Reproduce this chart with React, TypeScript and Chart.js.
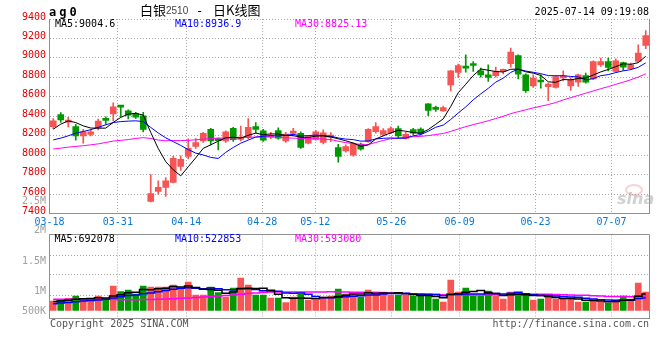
import React, { useEffect, useRef } from "react";
import { Chart, registerables } from "chart.js";

Chart.register(...registerables);

// ---------------- data ----------------
const dateLabels = ["03-18", "03-31", "04-14", "04-28", "05-12", "05-26", "06-09", "06-23", "07-07"];
// trading-day index of each labelled date
const dateIndex = [0, 9, 18, 28, 35, 45, 54, 64, 74];

const opens = [
  8293, 8418, 8340, 8293, 8198, 8214, 8282, 8377, 8423, 8500,
  8456, 8428, 8405, 7525, 7628, 7669, 7720, 7884, 7986, 8090,
  8146, 8265, 8166, 8146, 8275, 8163, 8185, 8293, 8250, 8185,
  8252, 8146, 8224, 8225, 8122, 8163, 8130, 8185, 8078, 8044,
  8000, 8115, 8139, 8241, 8214, 8231, 8272, 8173, 8262, 8268,
  8527, 8478, 8456, 8723, 8850, 8915, 8930, 8867, 8826, 8816,
  8862, 8940, 9025, 8826, 8713, 8760, 8703, 8696, 8795, 8713,
  8751, 8819, 8785, 8929, 8963, 8860, 8953, 8888, 8963, 9128,
];
const closes = [
  8354, 8361, 8352, 8198, 8241, 8241, 8351, 8357, 8497, 8494,
  8412, 8390, 8265, 7605, 7669, 7737, 7968, 7958, 8071, 8130,
  8224, 8146, 8150, 8241, 8160, 8185, 8285, 8265, 8155, 8205,
  8175, 8217, 8248, 8080, 8190, 8241, 8230, 8195, 7986, 8088,
  8122, 8062, 8265, 8293, 8252, 8272, 8198, 8214, 8225, 8220,
  8460, 8470, 8490, 8867, 8922, 8895, 8922, 8826, 8798, 8860,
  8870, 9060, 8833, 8662, 8792, 8752, 8730, 8809, 8805, 8775,
  8826, 8751, 8963, 8963, 8901, 8970, 8905, 8929, 9049, 9230,
];
const highs = [
  8377, 8439, 8390, 8316, 8265, 8265, 8370, 8395, 8538, 8508,
  8466, 8440, 8440, 7800, 7737, 7770, 7990, 7993, 8167, 8170,
  8235, 8275, 8175, 8250, 8285, 8300, 8377, 8335, 8265, 8235,
  8282, 8235, 8275, 8240, 8200, 8255, 8260, 8231, 8112, 8105,
  8130, 8125, 8272, 8335, 8272, 8290, 8300, 8235, 8275, 8280,
  8530, 8505, 8505, 8870, 8936, 9032, 8963, 8895, 8929, 8905,
  8885, 9100, 9032, 8836, 8826, 8826, 8741, 8815, 8867, 8798,
  8833, 8843, 8970, 8998, 8998, 8990, 8957, 8946, 9135, 9280,
];
const lows = [
  8272, 8337, 8290, 8153, 8122, 8198, 8260, 8316, 8354, 8395,
  8372, 8377, 8240, 7520, 7600, 7575, 7715, 7843, 7965, 8070,
  8130, 8105, 8055, 8130, 8140, 8146, 8166, 8225, 8140, 8170,
  8165, 8130, 8198, 8070, 8115, 8155, 8115, 8139, 7928, 8030,
  7990, 8050, 8130, 8225, 8198, 8220, 8173, 8165, 8210, 8205,
  8405, 8450, 8450, 8660, 8798, 8854, 8860, 8802, 8757, 8802,
  8835, 8905, 8785, 8644, 8696, 8689, 8559, 8690, 8764, 8665,
  8706, 8741, 8775, 8912, 8867, 8850, 8870, 8878, 8957, 9094,
];
const ma5 = [
  8267, 8319, 8352, 8335, 8301, 8279, 8277, 8278, 8337, 8388,
  8422, 8430, 8412, 8233, 8068, 7933, 7849, 7787, 7881, 7973,
  8070, 8106, 8144, 8178, 8184, 8176, 8204, 8227, 8210, 8219,
  8217, 8203, 8200, 8185, 8182, 8195, 8198, 8187, 8168, 8148,
  8124, 8091, 8105, 8166, 8199, 8229, 8256, 8246, 8232, 8226,
  8263, 8318, 8373, 8501, 8642, 8729, 8819, 8886, 8873, 8860,
  8855, 8883, 8884, 8857, 8843, 8820, 8754, 8749, 8778, 8774,
  8789, 8793, 8824, 8856, 8881, 8910, 8940, 8934, 8951, 9017,
];
const ma10 = [
  8157, 8175, 8199, 8226, 8243, 8262, 8286, 8312, 8335, 8345,
  8350, 8353, 8345, 8285, 8228, 8178, 8139, 8100, 8057, 8021,
  8002, 7977, 7966, 8029, 8079, 8123, 8155, 8186, 8194, 8202,
  8197, 8204, 8214, 8198, 8201, 8206, 8201, 8194, 8177, 8165,
  8160, 8144, 8146, 8167, 8173, 8177, 8173, 8175, 8199, 8212,
  8246, 8287, 8309, 8367, 8434, 8496, 8569, 8630, 8687, 8751,
  8792, 8851, 8885, 8865, 8852, 8838, 8818, 8817, 8817, 8809,
  8804, 8774, 8787, 8817, 8828, 8849, 8867, 8879, 8903, 8949,
];
const ma30 = [
  8063, 8072, 8082, 8090, 8097, 8106, 8116, 8130, 8145, 8152,
  8160, 8172, 8180, 8172, 8155, 8148, 8150, 8150, 8152, 8158,
  8165, 8170, 8175, 8176, 8177, 8180, 8183, 8186, 8188, 8189,
  8183, 8178, 8175, 8171, 8169, 8169, 8165, 8160, 8143, 8129,
  8119, 8108, 8108, 8131, 8151, 8169, 8176, 8185, 8190, 8193,
  8201, 8212, 8223, 8244, 8269, 8293, 8314, 8333, 8354, 8376,
  8399, 8427, 8447, 8466, 8486, 8503, 8520, 8541, 8568, 8591,
  8614, 8637, 8660, 8683, 8704, 8728, 8751, 8775, 8803, 8836,
];
const volumes = [
  399000, 441000, 512000, 609000, 512000, 441000, 609000, 441000, 1029000, 790000,
  861000, 693000, 1029000, 987000, 987000, 987000, 1071000, 903000, 1197000, 651000,
  651000, 987000, 748000, 567000, 945000, 1365000, 1071000, 651000, 651000, 525000,
  525000, 328000, 567000, 693000, 441000, 441000, 567000, 609000, 903000, 693000,
  693000, 567000, 861000, 777000, 777000, 651000, 651000, 651000, 609000, 609000,
  609000, 483000, 357000, 1281000, 777000, 945000, 609000, 609000, 819000, 609000,
  483000, 777000, 735000, 693000, 441000, 483000, 609000, 483000, 483000, 483000,
  357000, 357000, 441000, 357000, 315000, 441000, 609000, 483000, 1155000, 777000,
];
const volMa5 = [
  380000, 400000, 430000, 470000, 495000, 503000, 537000, 522000, 606000, 662000,
  746000, 763000, 880000, 872000, 911000, 937000, 1012000, 987000, 1029000, 962000,
  895000, 878000, 847000, 721000, 780000, 922000, 939000, 920000, 937000, 853000,
  685000, 536000, 519000, 528000, 511000, 494000, 542000, 550000, 592000, 643000,
  693000, 693000, 743000, 718000, 735000, 727000, 743000, 701000, 668000, 634000,
  626000, 592000, 533000, 668000, 701000, 769000, 794000, 844000, 752000, 718000,
  626000, 659000, 685000, 659000, 626000, 626000, 592000, 542000, 500000, 508000,
  483000, 433000, 424000, 399000, 365000, 382000, 433000, 441000, 601000, 693000,
];
const volMa10 = [
  280000, 310000, 340000, 370000, 400000, 420000, 440000, 470000, 520000, 578000,
  625000, 650000, 701000, 739000, 787000, 841000, 888000, 934000, 951000, 937000,
  916000, 945000, 917000, 875000, 871000, 909000, 909000, 883000, 829000, 816000,
  804000, 738000, 720000, 732000, 682000, 589000, 539000, 535000, 560000, 577000,
  594000, 617000, 647000, 655000, 689000, 710000, 718000, 722000, 693000, 685000,
  676000, 668000, 617000, 668000, 668000, 697000, 693000, 689000, 710000, 710000,
  697000, 727000, 764000, 706000, 672000, 626000, 626000, 613000, 580000, 567000,
  554000, 512000, 483000, 449000, 437000, 433000, 433000, 433000, 500000, 529000,
];
const volMa30 = [
  470000, 470000, 470000, 470000, 470000, 470000, 470000, 470000, 470000, 450000,
  450000, 455000, 460000, 465000, 470000, 480000, 490000, 510000, 530000, 550000,
  570000, 590000, 610000, 630000, 650000, 680000, 710000, 740000, 760000, 777000,
  781000, 777000, 779000, 782000, 780000, 780000, 778000, 784000, 780000, 776000,
  771000, 767000, 761000, 754000, 747000, 736000, 722000, 713000, 694000, 692000,
  691000, 674000, 661000, 685000, 679000, 665000, 650000, 649000, 654000, 657000,
  656000, 671000, 676000, 676000, 676000, 678000, 679000, 675000, 661000, 654000,
  643000, 636000, 622000, 608000, 592000, 585000, 584000, 578000, 596000, 602000,
];
// value-axis settings
const priceMin = 7400;
const priceMax = 9400;
const priceStep = 200;
const volMin = -336000;
const volMax = 3192000;
const volGrid = [651000, 1491000, 2331000];

// ---------------- styles ----------------
const MONO = "'DejaVu Sans Mono', monospace";
const UP = "#f75454";
const DOWN = "#009a00";
const GRID = "#a8a8a8";
const FRAME = "#909090";

const N = closes.length;
const idx = closes.map((_, i) => i);
const candleColor = idx.map((i) => (closes[i] >= opens[i] ? UP : DOWN));
const gridTicks = dateIndex.map((k) => ({ value: (k * N) / (N - 1) - 0.5 }));

const framePlugin = (withTop: boolean) => ({
  id: "frame",
  afterDraw(chart: any) {
    const { ctx, chartArea: a } = chart;
    ctx.save();
    ctx.strokeStyle = FRAME;
    ctx.lineWidth = 1;
    ctx.beginPath();
    ctx.moveTo(a.right, a.top);
    ctx.lineTo(a.right, a.bottom);
    if (withTop) {
      ctx.moveTo(a.left, a.top);
      ctx.lineTo(a.right, a.top);
    }
    ctx.stroke();
    ctx.restore();
  },
});

const xScale = (showLabels: boolean, h: number) => ({
  type: "linear",
  min: -0.5,
  max: N - 0.5,
  offset: false,
  afterBuildTicks: (s: any) => {
    s.ticks = gridTicks.map((t) => ({ ...t }));
  },
  afterFit: (s: any) => {
    s.height = h;
  },
  grid: { display: true, offset: false, color: GRID, lineWidth: 1, drawTicks: false },
  border: { display: true, color: FRAME, dash: [1, 2] },
  ticks: {
    display: showLabels,
    autoSkip: false,
    maxRotation: 0,
    minRotation: 0,
    padding: 2.5,
    color: "#0a78d4",
    font: { family: MONO, size: 10 },
    callback: (_v: any, i: number) => dateLabels[i] ?? "",
  },
});

const lineDs = (data: number[], color: string, order: number, width: number, stepped: any) => ({
  type: "line",
  data: idx.map((i) => ({ x: i, y: data[i] })),
  borderColor: color,
  borderWidth: width,
  pointRadius: 0,
  fill: false,
  tension: 0,
  stepped,
  order,
});

function priceConfig(): any {
  return {
    type: "bar",
    data: {
      datasets: [
        lineDs(ma5, "#000000", 0, 1, false),
        lineDs(ma10, "#0000ff", 1, 1, false),
        lineDs(ma30, "#ff00ff", 2, 1, false),
        {
          type: "bar",
          data: idx.map((i) => ({ x: i, y: [opens[i], closes[i]] })),
          backgroundColor: candleColor,
          borderWidth: 0,
          barThickness: 6,
          minBarLength: 2,
          grouped: false,
          order: 4,
        },
        {
          type: "bar",
          data: idx.map((i) => ({ x: i, y: [lows[i], highs[i]] })),
          backgroundColor: candleColor,
          borderWidth: 0,
          barThickness: 1,
          grouped: false,
          order: 5,
        },
      ],
    },
    options: {
      responsive: false,
      animation: false,
      events: [],
      layout: { padding: { top: 19, right: 10.5, bottom: 0, left: 0 } },
      plugins: { legend: { display: false }, tooltip: { enabled: false } },
      scales: {
        x: xScale(true, 18.5),
        y: {
          type: "linear",
          min: priceMin,
          max: priceMax,
          afterFit: (s: any) => {
            s.width = 49.5;
          },
          grid: { color: GRID, lineWidth: 1, drawTicks: false },
          border: { display: true, color: FRAME, dash: [1, 2] },
          ticks: {
            stepSize: priceStep,
            padding: 3.5,
            labelOffset: -2,
            color: "#e00000",
            font: { family: MONO, size: 10 },
            callback: (v: any) => String(v),
          },
        },
      },
    },
    plugins: [framePlugin(false)],
  };
}

function volConfig(): any {
  return {
    type: "bar",
    data: {
      datasets: [
        lineDs(volMa5, "#000000", 0, 1.5, "middle"),
        lineDs(volMa10, "#0000ff", 1, 1.5, "middle"),
        lineDs(volMa30, "#ff00ff", 2, 1.5, "middle"),
        {
          type: "bar",
          data: idx.map((i) => ({ x: i, y: volumes[i] })),
          backgroundColor: candleColor,
          borderWidth: 0,
          barThickness: 6,
          grouped: false,
          order: 4,
        },
      ],
    },
    options: {
      responsive: false,
      animation: false,
      events: [],
      layout: { padding: { top: 2.5, right: 10.5, bottom: 41.5, left: 0 } },
      plugins: { legend: { display: false }, tooltip: { enabled: false } },
      scales: {
        x: xScale(false, 0),
        y: {
          type: "linear",
          min: volMin,
          max: volMax,
          afterBuildTicks: (s: any) => {
            s.ticks = volGrid.map((v) => ({ value: v }));
          },
          afterFit: (s: any) => {
            s.width = 49.5;
          },
          grid: { color: GRID, lineWidth: 1, drawTicks: false },
          border: { display: true, color: FRAME, dash: [1, 2] },
          ticks: { display: false },
        },
      },
    },
    plugins: [framePlugin(true)],
  };
}

// ---------------- text helpers ----------------
const base: React.CSSProperties = {
  position: "absolute",
  fontFamily: MONO,
  fontSize: 10,
  lineHeight: "10px",
  whiteSpace: "pre",
  margin: 0,
};

function T(props: { x?: number; r?: number; y: number; color?: string; style?: React.CSSProperties; children: any }) {
  const pos: React.CSSProperties = props.r !== undefined ? { right: 660 - props.r, textAlign: "right" } : { left: props.x };
  return <div style={{ ...base, ...pos, top: props.y, color: props.color ?? "#000", ...props.style }}>{props.children}</div>;
}

const CJK = "'Noto Sans CJK SC', sans-serif";

export default function App() {
  const priceRef = useRef<HTMLCanvasElement>(null);
  const volRef = useRef<HTMLCanvasElement>(null);

  useEffect(() => {
    const pc = new Chart(priceRef.current as HTMLCanvasElement, priceConfig());
    const vc = new Chart(volRef.current as HTMLCanvasElement, volConfig());
    return () => {
      pc.destroy();
      vc.destroy();
    };
  }, []);

  return (
    <div style={{ position: "fixed", left: 0, top: 0, width: 660, height: 360, background: "#fff", overflow: "hidden" }}>
      <canvas ref={priceRef} width={660} height={232} style={{ position: "absolute", left: 0, top: 0, width: 660, height: 232 }} />
      <canvas ref={volRef} width={660} height={128} style={{ position: "absolute", left: 0, top: 232, width: 660, height: 128 }} />

      {/* watermark */}
      <div style={{ position: "absolute", left: 625, top: 184, width: 14, height: 8, borderRadius: "50%", border: "2px solid rgba(240,120,120,0.35)" }} />
      <div style={{ ...base, left: 617, top: 191, fontFamily: "'DejaVu Sans', sans-serif", fontStyle: "italic", fontWeight: "bold", fontSize: 16, lineHeight: "16px", color: "rgba(150,150,150,0.45)" }}>sina</div>

      {/* title row */}
      <T x={49} y={6} style={{ fontWeight: "bold", fontSize: 12, lineHeight: "12px", letterSpacing: "3px" }}>ag0</T>
      <div style={{ ...base, left: 140, top: 3.3, fontFamily: CJK, fontSize: 13, lineHeight: "13px" }}>白银</div>
      <div style={{ ...base, left: 166, top: 5.5, fontFamily: "'Liberation Sans', sans-serif", fontSize: 10, color: "#444" }}>2510</div>
      <div style={{ ...base, left: 196, top: 5, fontSize: 12, lineHeight: "12px" }}>-</div>
      <div style={{ ...base, left: 213, top: 3.3, fontFamily: CJK, fontSize: 13, lineHeight: "13px" }}>日K线图</div>
      <T r={649} y={6.9}>2025-07-14 09:19:08</T>

      {/* price MA legend */}
      <T x={55} y={18.5}>MA5:9004.6</T>
      <T x={175} y={18.5} color="#0000ff">MA10:8936.9</T>
      <T x={295} y={18.5} color="#ff00ff">MA30:8825.13</T>

      {/* volume axis labels */}
      <T r={46} y={195.5} color="#a0a0a0">2.5M</T>
      <T r={46} y={225.2} color="#a0a0a0">2M</T>
      <T r={46} y={255.5} color="#a0a0a0">1.5M</T>
      <T r={46} y={285.5} color="#a0a0a0">1M</T>
      <T r={46} y={305.7} color="#a0a0a0">500K</T>

      {/* volume MA legend */}
      <T x={54.5} y={233.6}>MA5:692078</T>
      <T x={175} y={233.6} color="#0000ff">MA10:522853</T>
      <T x={295} y={233.6} color="#ff00ff">MA30:593080</T>

      {/* footer */}
      <T x={50} y={318.5} color="#555">Copyright 2025 SINA.COM</T>
      <T r={649} y={318.5} color="#555">http://finance.sina.com.cn</T>
    </div>
  );
}
